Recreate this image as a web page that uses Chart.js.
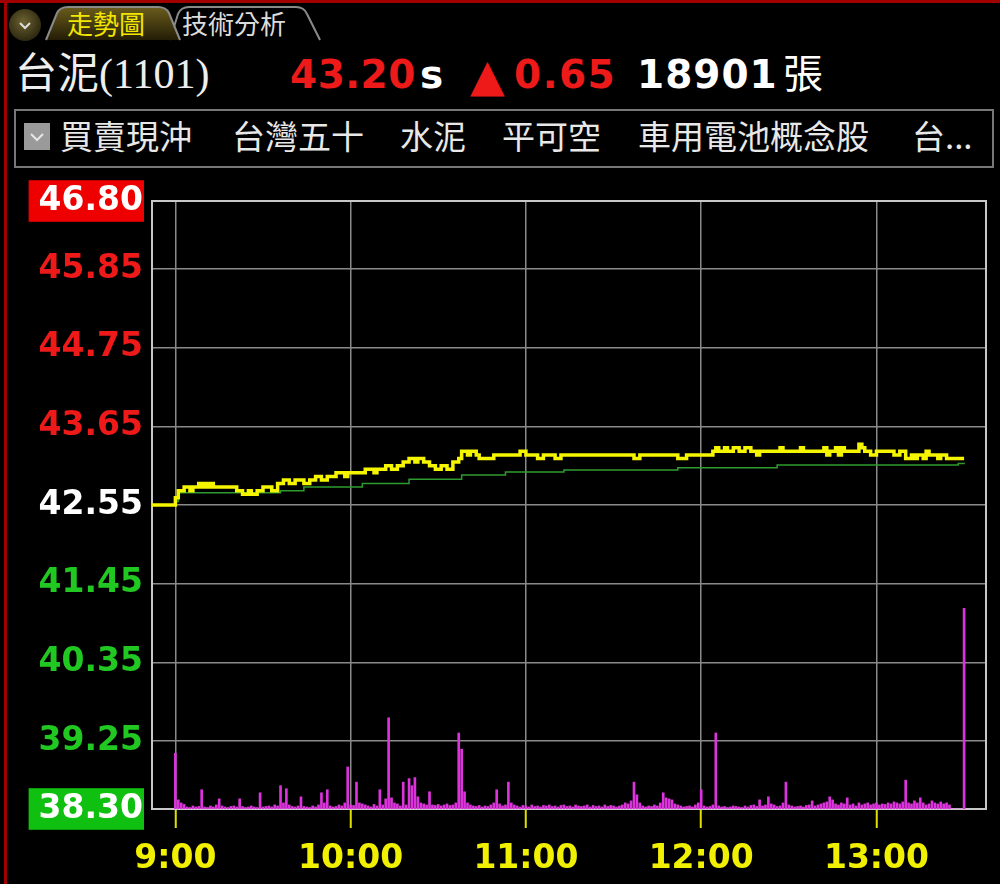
<!DOCTYPE html>
<html>
<head>
<meta charset="utf-8">
<script src="https://cdn.jsdelivr.net/npm/chart.js@4.4.1/dist/chart.umd.min.js"></script>
<style>
  html, body { margin: 0; padding: 0; background: #000; width: 1000px; height: 884px; overflow: hidden; }
  #head { position: absolute; left: 0; top: 0; }
  #redline { position: absolute; left: 4px; top: 0; width: 3px; height: 884px; background: #a00000; }
  #wrap { position: absolute; left: 0; top: 170px; width: 1000px; height: 714px; }
</style>
</head>
<body>
<svg id="head" width="1000" height="170" xmlns="http://www.w3.org/2000/svg">
  <defs>
    <linearGradient id="tabg" x1="0" y1="0" x2="0" y2="1">
      <stop offset="0" stop-color="#6a5c1c"/>
      <stop offset="1" stop-color="#241d06"/>
    </linearGradient>
    <radialGradient id="btn" cx="0.45" cy="0.4" r="0.6">
      <stop offset="0" stop-color="#6d6230"/>
      <stop offset="1" stop-color="#2c2710"/>
    </radialGradient>
  </defs>
  <rect x="0" y="0" width="1000" height="3" fill="#a00000"/>
  <circle cx="25" cy="25" r="16" fill="url(#btn)"/>
  <path d="M20 23 L25 28 L30 23" stroke="#ddd" stroke-width="2" fill="none"/>
  <path d="M170 40 L178 14 Q181 7 189 7 L296 7 Q304 7 307 14 L320 40" fill="#000" stroke="#8a8a8a" stroke-width="2"/>
  <path d="M46 40 L57 13 Q60 7 68 7 L158 7 Q166 7 169 13 L180 40" fill="url(#tabg)" stroke="#8a8a8a" stroke-width="2"/>
  <text x="67" y="34" font-family="Noto Sans CJK TC" font-size="26" fill="#f2e600">走勢圖</text>
  <text x="182" y="34" font-family="Noto Sans CJK TC" font-size="26" fill="#dcdcdc">技術分析</text>

  <text x="15" y="88" font-size="42" fill="#eeeeee"><tspan font-family="Noto Sans CJK TC">台泥</tspan><tspan font-family="Liberation Serif">(1101)</tspan></text>
  <text x="290" y="88" font-family="DejaVu Sans" font-weight="bold" font-size="39" fill="#ee1a1a" letter-spacing="0.5">43.20</text>
  <text x="420" y="88" font-family="DejaVu Sans" font-weight="bold" font-size="39" fill="#ffffff">s</text>
  <text x="470" y="91" font-family="DejaVu Sans" font-weight="bold" font-size="45" fill="#ee1a1a">▲</text>
  <text x="514" y="88" font-family="DejaVu Sans" font-weight="bold" font-size="39" fill="#ee1a1a" letter-spacing="1.5">0.65</text>
  <text x="637" y="88" font-family="DejaVu Sans" font-weight="bold" font-size="39" fill="#ffffff" letter-spacing="1">18901</text>
  <text x="783" y="88" font-family="Noto Sans CJK TC" font-size="40" fill="#ffffff">張</text>

  <rect x="15" y="110" width="978" height="57" fill="none" stroke="#777" stroke-width="2"/>
  <rect x="24" y="123" width="26" height="27" fill="#9a9a9a"/>
  <path d="M31 134 L37 140 L43 134" stroke="#e6e6e6" stroke-width="2" fill="none"/>
  <g font-family="Noto Sans CJK TC" font-size="33" fill="#e8e8e8">
    <text x="60" y="149">買賣現沖</text>
    <text x="232" y="149">台灣五十</text>
    <text x="400" y="149">水泥</text>
    <text x="502" y="149">平可空</text>
    <text x="638" y="149">車用電池概念股</text>
    <text x="912" y="149">台...</text>
  </g>
</svg>
<div id="redline"></div>
<div id="wrap"><canvas id="trend"></canvas></div>

<script>
// minutes after 9:00 (13:30 = 270); -8 = left edge, shows yesterday's close
var refPrice = 42.55;
var yTicks = [38.30, 39.25, 40.35, 41.45, 42.55, 43.65, 44.75, 45.85, 46.80];
var tickMinutes = [0, 60, 120, 180, 240];
var tickLabels = ['9:00', '10:00', '11:00', '12:00', '13:00'];

// price changes (time of change, new price)
var priceTimes = [-8, 0, 1, 3, 5, 6, 8, 9, 10, 11, 12, 13, 21, 23, 25, 26, 28, 30, 33, 35,
  37, 39, 41, 44, 46, 48, 50, 52, 55, 58, 59, 65, 68, 69, 72, 74, 76, 78, 80, 82,
  83, 85, 87, 89, 91, 93, 95, 97, 98, 100, 101, 103, 104, 109, 118, 120, 124, 126, 130, 132,
  157, 159, 172, 175, 184, 185, 186, 188, 189, 191, 193, 195, 197, 199, 200, 207, 208, 214, 215, 222,
  223, 224, 226, 227, 228, 229, 234, 235, 236, 238, 240, 246, 248, 250, 252, 253, 254, 256, 257, 258,
  261, 262, 264, 270];
var prices = [42.55, 42.65, 42.75, 42.80, 42.75, 42.80, 42.85, 42.80, 42.85, 42.80, 42.85, 42.80, 42.75, 42.70, 42.75, 42.70, 42.75, 42.80, 42.75, 42.85,
  42.90, 42.85, 42.90, 42.85, 42.90, 42.95, 42.90, 42.95, 43.00, 42.95, 43.00, 43.05, 43.00, 43.05, 43.10, 43.05, 43.10, 43.15, 43.20, 43.15,
  43.20, 43.15, 43.10, 43.05, 43.10, 43.05, 43.15, 43.20, 43.30, 43.25, 43.30, 43.25, 43.20, 43.25, 43.30, 43.25, 43.20, 43.25, 43.20, 43.25,
  43.20, 43.25, 43.20, 43.25, 43.30, 43.35, 43.30, 43.35, 43.30, 43.35, 43.30, 43.35, 43.30, 43.25, 43.30, 43.35, 43.30, 43.35, 43.30, 43.35,
  43.25, 43.30, 43.35, 43.25, 43.35, 43.30, 43.40, 43.35, 43.30, 43.25, 43.30, 43.25, 43.30, 43.20, 43.25, 43.20, 43.25, 43.20, 43.30, 43.25,
  43.20, 43.25, 43.20, 43.20];

// average price changes
var avgTimes = [0, 1, 36, 44, 64, 80, 98, 113, 133, 172, 206, 268, 270];
var avgPrices = [42.60, 42.72, 42.75, 42.80, 42.85, 42.91, 42.97, 43.01, 43.04, 43.07, 43.11, 43.13, 43.14];

// volume per minute (lots), minute 0..270
var volume = [
  550, 90, 60, 45, 20, 15, 30, 20, 25, 190, 20, 15, 30, 20, 40, 100, 30, 20, 15, 25,
  30, 20, 100, 25, 15, 20, 30, 20, 15, 160, 20, 25, 30, 20, 40, 30, 230, 60, 200, 40,
  25, 20, 30, 120, 25, 20, 15, 30, 20, 40, 160, 60, 190, 30, 20, 25, 40, 30, 60, 415,
  40, 35, 265, 60, 50, 40, 30, 20, 45, 30, 190, 40, 100, 900, 110, 60, 50, 30, 265, 40,
  300, 230, 310, 120, 60, 50, 40, 170, 40, 35, 45, 30, 40, 50, 35, 40, 60, 750, 590, 170,
  60, 40, 30, 25, 35, 20, 30, 25, 40, 60, 190, 50, 30, 40, 265, 60, 40, 30, 20, 35,
  30, 20, 40, 25, 30, 20, 35, 30, 40, 25, 30, 20, 35, 40, 25, 30, 20, 40, 30, 25,
  30, 40, 20, 35, 25, 30, 20, 40, 25, 35, 30, 20, 30, 40, 60, 50, 80, 265, 140, 60,
  30, 20, 30, 25, 40, 30, 60, 160, 110, 100, 90, 50, 40, 30, 20, 25, 30, 20, 40, 60,
  190, 30, 20, 25, 40, 750, 30, 20, 25, 15, 20, 30, 25, 20, 15, 30, 20, 35, 40, 25,
  90, 30, 40, 120, 50, 40, 25, 30, 60, 265, 40, 30, 20, 25, 30, 20, 35, 40, 80, 30,
  40, 50, 60, 70, 120, 90, 50, 40, 60, 50, 110, 40, 50, 30, 60, 40, 50, 60, 40, 50,
  60, 40, 50, 45, 60, 50, 70, 60, 50, 70, 285, 60, 50, 80, 60, 110, 60, 40, 50, 80,
  60, 50, 70, 50, 60, 40, 0, 0, 0, 0, 1980
];

var frame = {
  id: 'frame',
  beforeDatasetsDraw: function (chart) {
    var ctx = chart.ctx, a = chart.chartArea;
    ctx.save();
    ctx.strokeStyle = '#c8c8c8';
    ctx.lineWidth = 2;
    ctx.strokeRect(a.left, a.top, a.right - a.left, a.bottom - a.top);
    ctx.restore();
  }
};

var ctx = document.getElementById('trend');
new Chart(ctx, {
  type: 'line',
  data: {
    datasets: [
      {
        type: 'line',
        label: '成交價',
        data: priceTimes.map(function (t, i) { return { x: t, y: prices[i] }; }),
        borderColor: '#f5f500',
        borderWidth: 3.5,
        stepped: true,
        pointRadius: 0,
        yAxisID: 'y',
        order: 0
      },
      {
        type: 'line',
        label: '均價',
        data: avgTimes.map(function (t, i) { return { x: t, y: avgPrices[i] }; }),
        borderColor: '#2f9a2f',
        borderWidth: 1.5,
        stepped: true,
        pointRadius: 0,
        yAxisID: 'y',
        order: 1
      },
      {
        type: 'bar',
        label: '成交量',
        data: volume.map(function (v, i) { return { x: i, y: v }; }),
        backgroundColor: '#dd33dd',
        barThickness: 2,
        yAxisID: 'yv',
        order: 2
      }
    ]
  },
  options: {
    responsive: true,
    maintainAspectRatio: false,
    animation: false,
    layout: { padding: { top: 31, right: 14, left: 0, bottom: 0 } },
    plugins: {
      legend: { display: false },
      tooltip: { enabled: false }
    },
    scales: {
      x: {
        type: 'linear',
        min: -8,
        max: 277.5,
        offset: false,
        afterBuildTicks: function (s) { s.ticks = tickMinutes.map(function (v) { return { value: v }; }); },
        afterFit: function (s) { s.height = 75; },
        grid: { offset: false, color: '#8a8a8a', lineWidth: 1.5, drawTicks: true, tickLength: 19, tickColor: '#e0e000', tickWidth: 2 },
        border: { color: '#c8c8c8', width: 2 },
        ticks: {
          autoSkip: false,
          maxRotation: 0,
          padding: 12,
          color: '#f0f000',
          font: { family: 'DejaVu Sans', size: 33, weight: 'bold' },
          callback: function (v, i) { return tickLabels[i]; }
        }
      },
      y: {
        position: 'left',
        min: 38.30,
        max: 46.80,
        afterBuildTicks: function (s) { s.ticks = yTicks.map(function (v) { return { value: v }; }); },
        afterFit: function (s) { s.width = 152; },
        grid: { color: '#8a8a8a', lineWidth: 1.5, drawTicks: false },
        border: { color: '#c8c8c8', width: 2 },
        ticks: {
          autoSkip: false,
          padding: 9,
          font: { family: 'DejaVu Sans', size: 33, weight: 'bold' },
          color: function (c) {
            var v = c.tick.value;
            if (v === yTicks[0] || v === yTicks[yTicks.length - 1]) return '#ffffff';
            if (Math.abs(v - refPrice) < 0.001) return '#ffffff';
            return v > refPrice ? '#ee1a1a' : '#22c822';
          },
          showLabelBackdrop: true,
          backdropColor: function (c) {
            var v = c.tick.value;
            if (v === yTicks[yTicks.length - 1]) return '#ee0000';
            if (v === yTicks[0]) return '#10c010';
            return 'rgba(0,0,0,0)';
          },
          backdropPadding: { top: 1, bottom: 1, left: 10, right: 1 },
          callback: function (v) { return v.toFixed(2); }
        }
      },
      yv: {
        display: false,
        min: 0,
        max: 6000
      }
    }
  },
  plugins: [frame]
});
</script>
</body>
</html>
